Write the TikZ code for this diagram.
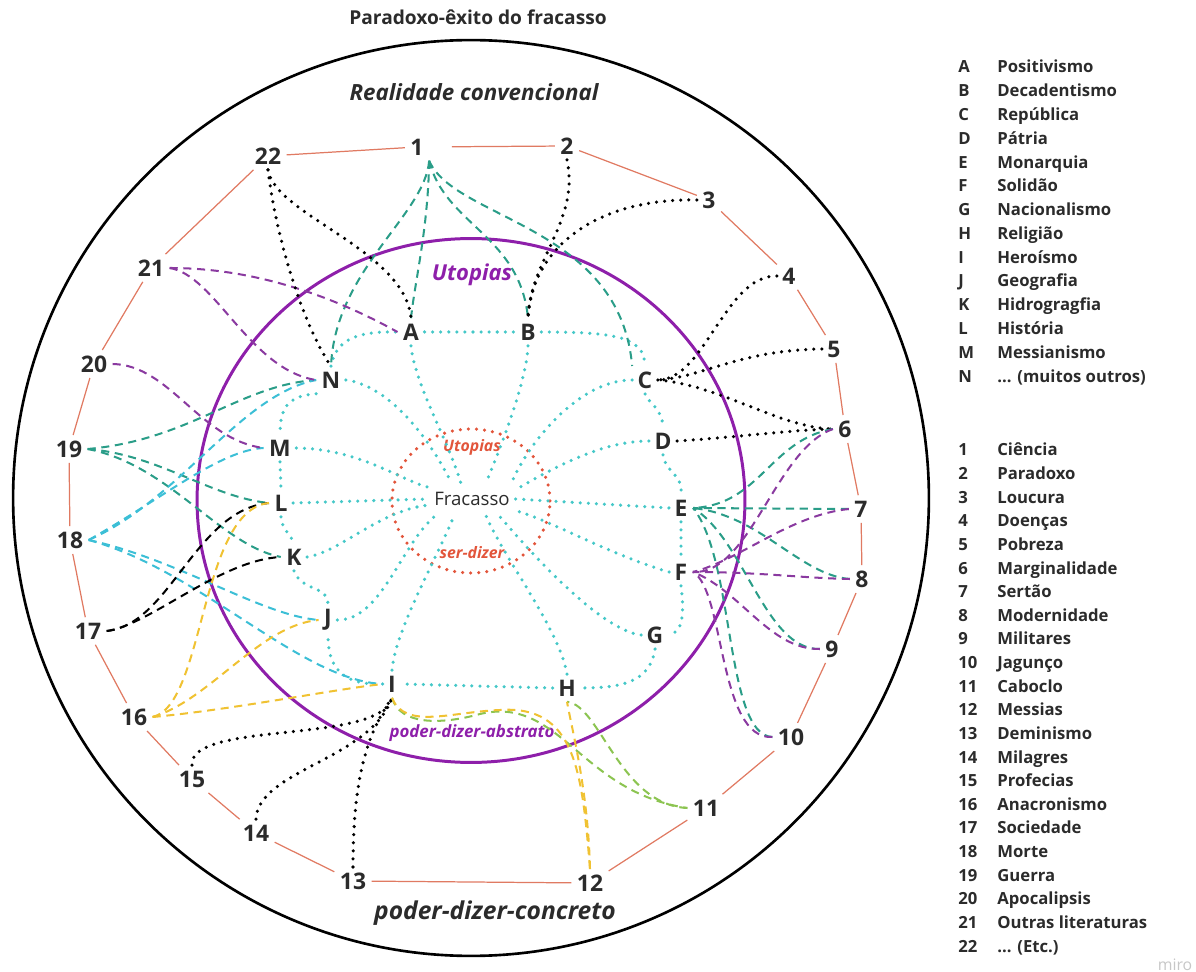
\documentclass[tikz,border=0pt]{standalone}
\usepackage{fontspec}
\setmainfont{Open Sans}
\definecolor{ringred}{HTML}{E07A62}
\definecolor{tealdk}{HTML}{2A9D88}
\definecolor{cyanln}{HTML}{3CBFD6}
\definecolor{cyandot}{HTML}{45C8C8}
\definecolor{purp}{HTML}{8E1FAA}
\definecolor{purpdash}{HTML}{8A3AA0}
\definecolor{yell}{HTML}{F0C232}
\definecolor{limeg}{HTML}{8CC451}
\definecolor{reddot}{HTML}{E2553B}
\definecolor{ink}{HTML}{2B2B2B}
\begin{document}
\begin{tikzpicture}[x=0.02cm,y=-0.02cm,
  numlab/.style={font=\fontsize{13}{15}\selectfont\bfseries, text=ink, inner sep=3pt},
  letlab/.style={font=\fontsize{13}{15}\selectfont\bfseries, text=ink, inner sep=3pt},
  leglab/.style={font=\fontsize{9.5}{11}\selectfont\bfseries, text=ink, inner sep=0pt, anchor=base west},
  ringline/.style={ringred, line width=0.7pt},
  dotcy/.style={cyandot, line width=2pt, line cap=round, dash pattern=on 0pt off 4.6pt},
  dotbk/.style={black, line width=2pt, line cap=round, dash pattern=on 0pt off 4.6pt},
  dashln/.style={line width=1.15pt, dash pattern=on 4.6pt off 3.2pt},
  tealdash/.style={dashln, tealdk},
  cyandash/.style={dashln, cyanln},
  purpdsh/.style={dashln, purpdash},
  yelldash/.style={dashln, yell},
  limedash/.style={dashln, limeg},
  blkdash/.style={dashln, black}]
\path[use as bounding box] (0,0) rectangle (1196,972);

% frames
\draw[black, line width=1.5pt] (471,498) circle [radius=9.16cm];
\draw[purp, line width=1.7pt] (471,500.5) ellipse [x radius=5.48cm, y radius=5.24cm];
\draw[reddot, line width=2pt, line cap=round, dash pattern=on 0pt off 4.6pt]
  (471,501) ellipse [x radius=1.58cm, y radius=1.44cm];

% titles
\node[font=\fontsize{10.9}{12}\selectfont\bfseries, text=ink] (title) at (478,17) {Paradoxo-êxito do fracasso};
\node[font=\fontsize{12.7}{14}\selectfont\bfseries\itshape, text=ink] (real) at (474,92) {Realidade convencional};
\node[font=\fontsize{14}{16}\selectfont\bfseries\itshape, text=ink] (conc) at (495,913) {poder-dizer-concreto};
\node[font=\fontsize{12.5}{14}\selectfont\bfseries\itshape, text=purp] (utop) at (472,275) {Utopias};
\node[font=\fontsize{9.6}{11}\selectfont\bfseries\itshape, text=purp] (abst) at (472,733) {poder-dizer-abstrato};
\node[font=\fontsize{9}{10}\selectfont\bfseries\itshape, text=reddot] (utin) at (472,447) {Utopias};
\node[font=\fontsize{9}{10}\selectfont\bfseries\itshape, text=reddot] (serd) at (472,553) {ser-dizer};
\node[font=\fontsize{10.6}{12}\selectfont, text=ink, inner xsep=3pt, inner ysep=5pt] (frac) at (472,499) {Fracasso};

% letters
\node[letlab] (A) at (411,332) {A};
\node[letlab] (B) at (528,332) {B};
\node[letlab] (C) at (645,380) {C};
\node[letlab] (D) at (663,441) {D};
\node[letlab] (E) at (681,508) {E};
\node[letlab] (F) at (681,572) {F};
\node[letlab] (G) at (655,635) {G};
\node[letlab] (H) at (567,688) {H};
\node[letlab] (I) at (392,684) {I};
\node[letlab] (J) at (328,620) {J};
\node[letlab] (K) at (294,557) {K};
\node[letlab] (L) at (281,503) {L};
\node[letlab] (M) at (280,448) {M};
\node[letlab] (N) at (331,380) {N};

% numbers
\node[numlab] (n1) at (417,147) {1};
\node[numlab] (n2) at (567,146) {2};
\node[numlab] (n3) at (709,200) {3};
\node[numlab] (n4) at (789,276) {4};
\node[numlab] (n5) at (834,349) {5};
\node[numlab] (n6) at (845,429) {6};
\node[numlab] (n7) at (861,509) {7};
\node[numlab] (n8) at (862,579) {8};
\node[numlab] (n9) at (832,649) {9};
\node[numlab] (n10) at (791,737) {10};
\node[numlab] (n11) at (706,808) {11};
\node[numlab] (n12) at (590,883) {12};
\node[numlab] (n13) at (353,881) {13};
\node[numlab] (n14) at (256,833) {14};
\node[numlab] (n15) at (192,779) {15};
\node[numlab] (n16) at (134,717) {16};
\node[numlab] (n17) at (88,631) {17};
\node[numlab] (n18) at (70,540) {18};
\node[numlab] (n19) at (69,449) {19};
\node[numlab] (n20) at (94,364) {20};
\node[numlab] (n21) at (151,268) {21};
\node[numlab] (n22) at (268,156) {22};

% outer ring of numbers
\foreach \a/\b in {22/1,2/3,3/4,4/5,5/6,6/7,7/8,8/9,9/10,10/11,11/12,12/13,13/14,14/15,15/16,16/17,17/18,18/19,19/20,20/21,21/22}
  \draw[ringline] (n\a) -- (n\b);
\draw[ringline, shorten <=13pt] (n1) -- (n2);

% ring of letters (cyan dotted)
\draw[dotcy] (A.east) -- (B.west);
\draw[dotcy] (B.east) .. controls (612,332) and (645,336) .. (C.north);
\draw[dotcy] (C.south) .. controls (650,405) and (662,408) .. (D.north);
\draw[dotcy] (D.south) .. controls (665,472) and (683,474) .. (E.north);
\draw[dotcy] (E.south) -- (F.north);
\draw[dotcy] (F.south) .. controls (684,612) and (684,632) .. (G.east);
\draw[dotcy] (G.south) .. controls (650,682) and (622,688) .. (H.east);
\draw[dotcy] (H.west) -- (I.east);
\draw[dotcy] (I.west) .. controls (338,686) and (328,662) .. (J.south);
\draw[dotcy] (K.south) .. controls (302,592) and (328,585) .. (J.north);
\draw[dotcy] (L.south) .. controls (282,530) and (290,533) .. (K.north);
\draw[dotcy] (M.south) -- (L.north);
\draw[dotcy] (N.south west) .. controls (286,396) and (280,410) .. (M.north);
\draw[dotcy] (N.north) .. controls (336,338) and (360,331) .. (A.west);

% spokes to Fracasso (cyan dotted)
\draw[dotcy] (N.east) .. controls (385,385) and (425,430) .. (frac.142);
\draw[dotcy] (A.south) .. controls (415,385) and (448,440) .. (frac.125);
\draw[dotcy] (B.south) .. controls (527,380) and (500,450) .. (frac.49);
\draw[dotcy] (C.west) .. controls (580,380) and (530,440) .. (frac.22);
\draw[dotcy] (D.west) .. controls (600,441) and (550,470) .. (frac.12);
\draw[dotcy] (E.west) -- (frac.0);
\draw[dotcy] (F.west) .. controls (610,555) and (550,520) .. (frac.-15);
\draw[dotcy] (G.west) .. controls (600,630) and (530,552) .. (frac.-31);
\draw[dotcy] (H.north) .. controls (560,630) and (500,552) .. (frac.-49);
\draw[dotcy] (I.north) .. controls (395,630) and (440,552) .. (frac.222);
\draw[dotcy] (J.east) .. controls (382,620) and (400,545) .. (frac.204);
\draw[dotcy] (K.east) .. controls (340,552) and (380,510) .. (frac.188);
\draw[dotcy] (L.east) -- (frac.180);
\draw[dotcy] (M.east) .. controls (360,449) and (400,480) .. (frac.165);

% Ciência (teal dashed)
\draw[tealdash] (n1.south east) .. controls (425,215) and (335,270) .. (N.north);
\draw[tealdash] (n1.south east) .. controls (428,230) and (415,280) .. (A.north);
\draw[tealdash] (n1.south east) .. controls (445,225) and (520,235) .. (B.north);
\draw[tealdash] (n1.south east) .. controls (455,220) and (620,225) .. (C.north west);

% Guerra (teal dashed)
\draw[tealdash] (n19.east) .. controls (190,440) and (240,385) .. (N.west);
\draw[tealdash] (n19.east) .. controls (160,455) and (210,497) .. (L.west);
\draw[tealdash] (n19.east) .. controls (170,465) and (220,545) .. (K.west);

% Morte (cyan dashed)
\draw[cyandash] (n18.east) .. controls (180,500) and (240,395) .. (N.west);
\draw[cyandash] (n18.east) .. controls (160,500) and (220,450) .. (M.west);
\draw[cyandash] (n18.east) .. controls (180,560) and (260,615) .. (J.west);
\draw[cyandash] (n18.east) .. controls (200,570) and (300,680) .. (I.west);

% Sociedade (black dashed)
\draw[blkdash] (n17.east) .. controls (150,625) and (220,560) .. (K.west);
\draw[blkdash] (n17.east) .. controls (170,625) and (195,510) .. (L.west);

% Anacronismo (yellow dashed)
\draw[yelldash] (n16.east) .. controls (205,705) and (200,510) .. (L.west);
\draw[yelldash] (n16.east) .. controls (210,700) and (260,625) .. (J.west);
\draw[yelldash] (n16.east) .. controls (230,710) and (330,690) .. (I.west);

% Outras literaturas, Apocalipsis (purple dashed)
\draw[purpdsh] (n21.east) .. controls (260,268) and (340,300) .. (A.west);
\draw[purpdsh] (n21.east) .. controls (215,275) and (250,370) .. (N.west);
\draw[purpdsh] (n20.east) .. controls (170,365) and (200,440) .. (M.west);

% Etc., Paradoxo, Loucura, Doenças, Pobreza, Marginalidade (black dotted)
\draw[dotbk] (n22.south) .. controls (275,215) and (405,250) .. (A.north);
\draw[dotbk] (n22.south) .. controls (275,230) and (300,320) .. (N.north);
\draw[dotbk] (n2.south) .. controls (580,220) and (530,260) .. (B.north);
\draw[dotbk] (n3.west) .. controls (600,198) and (532,245) .. (B.north);
\draw[dotbk] (n4.west) .. controls (725,275) and (705,380) .. (C.east);
\draw[dotbk] (n5.west) .. controls (740,350) and (700,378) .. (C.east);
\draw[dotbk] (C.east) .. controls (720,385) and (780,428) .. (n6.west);
\draw[dotbk] (D.east) .. controls (740,437) and (790,430) .. (n6.west);

% Sertão side (teal dashed to E, purple dashed to F)
\draw[tealdash] (n6.west) .. controls (770,440) and (760,505) .. (E.east);
\draw[tealdash] (n7.west) -- (E.east);
\draw[tealdash] (n8.west) .. controls (800,575) and (760,515) .. (E.east);
\draw[tealdash] (n9.west) .. controls (765,650) and (745,540) .. (E.east);
\draw[tealdash] (n10.west) .. controls (725,735) and (735,560) .. (E.east);
\draw[purpdsh] (n6.west) .. controls (775,450) and (750,575) .. (F.east);
\draw[purpdsh] (n7.west) .. controls (790,515) and (740,560) .. (F.east);
\draw[purpdsh] (n8.west) .. controls (800,578) and (760,572) .. (F.east);
\draw[purpdsh] (n9.west) .. controls (770,650) and (740,590) .. (F.east);
\draw[purpdsh] (n10.west) .. controls (718,740) and (725,590) .. (F.east);

% Profecias, Milagres, Deminismo (black dotted)
\draw[dotbk] (n15.north) .. controls (190,720) and (380,745) .. (I.south);
\draw[dotbk] (n14.north) .. controls (258,770) and (370,760) .. (I.south);
\draw[dotbk] (n13.north) .. controls (353,770) and (370,730) .. (I.south);

% Caboclo (lime dashed), Messias (yellow dashed)
\draw[limedash] (n11.west) .. controls (620,805) and (600,705) .. (H.south);
\draw[limedash] (I.south) .. controls (400,725) and (440,725) .. (480,714)
  .. controls (560,695) and (580,792) .. (n11.west);
\draw[yelldash] (n12.north) .. controls (588,790) and (572,730) .. (H.south);
\draw[yelldash] (I.south) .. controls (405,730) and (450,712) .. (500,710)
  .. controls (575,705) and (582,770) .. (n12.north);

% legend
\foreach \lab/\word [count=\i from 0] in {A/{Positivismo},B/{Decadentismo},C/{República},D/{Pátria},E/{Monarquia},F/{Solidão},G/{Nacionalismo},H/{Religião},I/{Heroísmo},J/{Geografia},K/{Hidrogragfia},L/{História},M/{Messianismo},N/{... (muitos outros)}}
{
  \node[leglab] (lk\i) at (958,{73+23.77*\i}) {\lab};
  \node[leglab] (lw\i) at (997,{73+23.77*\i}) {\word};
}
\foreach \lab/\word [count=\i from 0] in {1/{Ciência},2/{Paradoxo},3/{Loucura},4/{Doenças},5/{Pobreza},6/{Marginalidade},7/{Sertão},8/{Modernidade},9/{Militares},10/{Jagunço},11/{Caboclo},12/{Messias},13/{Deminismo},14/{Milagres},15/{Profecias},16/{Anacronismo},17/{Sociedade},18/{Morte},19/{Guerra},20/{Apocalipsis},21/{Outras literaturas},22/{... (Etc.)}}
{
  \node[leglab] (nk\i) at (958,{456+23.62*\i}) {\lab};
  \node[leglab] (nw\i) at (997,{456+23.62*\i}) {\word};
}
\node[font=\fontsize{9}{10}\selectfont, text=black!22] (miro) at (1175,965) {miro};
\end{tikzpicture}
\end{document}
